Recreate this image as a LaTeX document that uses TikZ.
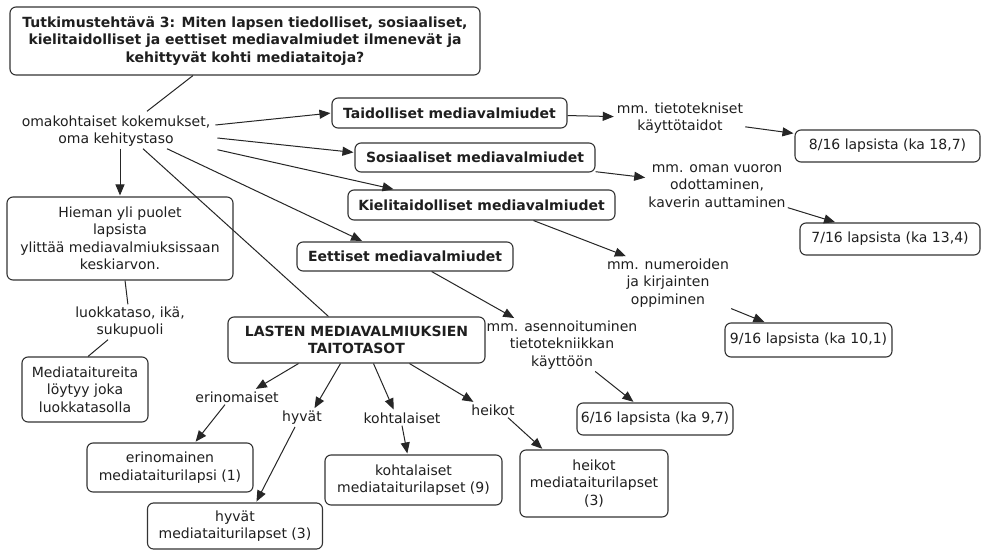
\documentclass[tikz,border=0pt]{standalone}
\usepackage{fontspec}
\setmainfont{DejaVu Sans}
\usetikzlibrary{arrows.meta,calc}
\begin{document}
\begin{tikzpicture}[x=1pt,y=-1pt,
  every node/.style={font=\fontsize{14}{17.5}\selectfont, align=center, text=black!88, inner sep=2pt},
  box/.style={draw=black!80, line width=1.1pt, rounded corners=6pt, fill=white},
  hbox/.style={box, font=\fontsize{14}{17.5}\selectfont\bfseries},
  arr/.style={draw=black!85, line width=1pt, -{Triangle[length=11pt,width=9pt]}, shorten >=1pt},
  ln/.style={draw=black!85, line width=1pt}]
\fill[white] (0,0) rectangle (982,551);
\useasboundingbox (0,0) rectangle (982,551);

% question and its starting point
\node[hbox, minimum width=470pt, minimum height=68pt] (q) at (245,41)
  {Tutkimustehtävä 3: Miten lapsen tiedolliset, sosiaaliset,\\ kielitaidolliset ja eettiset mediavalmiudet ilmenevät ja\\ kehittyvät kohti mediataitoja?};
\node (omak) at (116,131) {omakohtaiset kokemukset,\\ oma kehitystaso};

% the four kinds of media readiness
\node[hbox, minimum width=235pt, minimum height=30pt] (taid) at (449.5,113) {Taidolliset mediavalmiudet};
\node[hbox, minimum width=240pt, minimum height=29pt] (sos) at (475,157.5) {Sosiaaliset mediavalmiudet};
\node[hbox, minimum width=267pt, minimum height=30pt] (kiel) at (481.5,205) {Kielitaidolliset mediavalmiudet};
\node[hbox, minimum width=216pt, minimum height=29pt] (eett) at (405,256.5) {Eettiset mediavalmiudet};

% examples and results
\node (tiet) at (680,118) {mm. tietotekniset\\ käyttötaidot};
\node (oman) at (717,186) {mm. oman vuoron\\ odottaminen,\\ kaverin auttaminen};
\node (num) at (668,283) {mm. numeroiden\\ ja kirjainten\\ oppiminen};
\node (asen) at (562,345) {mm. asennoituminen\\ tietotekniikkan\\ käyttöön};
\node[box, minimum width=185pt, minimum height=32pt] (r8) at (887.5,146) {8/16 lapsista (ka 18,7)};
\node[box, minimum width=180pt, minimum height=32pt] (r7) at (890,239) {7/16 lapsista (ka 13,4)};
\node[box, minimum width=167pt, minimum height=34pt] (r9) at (808.5,340) {9/16 lapsista (ka 10,1)};
\node[box, minimum width=156pt, minimum height=32pt] (r6) at (655,419) {6/16 lapsista (ka 9,7)};

% left branch
\node[box, minimum width=226pt, minimum height=83pt] (hiem) at (120,238.5)
  {Hieman yli puolet\\ lapsista\\ ylittää mediavalmiuksissaan\\ keskiarvon.};
\node (luok) at (130,322) {luokkataso, ikä,\\ sukupuoli};
\node[box, minimum width=126pt, minimum height=65pt] (med) at (85,389.5) {Mediataitureita\\ löytyy joka\\ luokkatasolla};

% skill levels
\node[hbox, minimum width=257pt, minimum height=46pt] (lasten) at (356.5,340) {LASTEN MEDIAVALMIUKSIEN\\ TAITOTASOT};
\node (erin) at (237,397) {erinomaiset};
\node (hyv) at (302,418) {hyvät};
\node (koht) at (402,418) {kohtalaiset};
\node (heik) at (493,410) {heikot};
\node[box, minimum width=166pt, minimum height=49pt] (erinb) at (170,467.5) {erinomainen\\ mediataiturilapsi (1)};
\node[box, minimum width=175pt, minimum height=46pt] (hyvb) at (235,526) {hyvät\\ mediataiturilapset (3)};
\node[box, minimum width=177pt, minimum height=50pt] (kohtb) at (413.5,480) {kohtalaiset\\ mediataiturilapset (9)};
\node[box, minimum width=148pt, minimum height=67pt] (heikb) at (594,483.5) {heikot\\ mediataiturilapset\\ (3)};

% connectors
\draw[ln] ($(q.south)+(-52,0)$) -- ($(omak.north)+(31,-2)$);
\draw[arr] ($(omak.east)+(3,-6)$) -- (taid.west);
\draw[arr] ($(omak.east)+(5,7)$) -- ($(sos.west)+(0,-5)$);
\draw[arr] ($(omak.south east)+(5,1)$) -- ($(kiel.north)+(-87,0)$);
\draw[arr] ($(omak.south)+(51,0)$) -- ($(eett.north)+(-42,0)$);
\draw[arr] (omak.south -| hiem.north) -- (hiem.north);
\draw[ln] ($(omak.south)+(27,0)$) -- ($(lasten.north)+(-28,0)$);
\draw[arr] (taid) -- (tiet);
\draw[arr] (tiet) -- (r8);
\draw[arr] (sos) -- (oman);
\draw[arr] (oman) -- (r7);
\draw[arr] ($(kiel.south)+(52,0)$) -- ($(num.north west)+(22,0)$);
\draw[arr] (num) -- (r9);
\draw[arr] (eett) -- (asen);
\draw[arr] (asen) -- (r6);
\draw[ln] (hiem) -- (luok);
\draw[ln] ($(luok.south)+(-22,0)$) -- ($(med.north)+(3,0)$);
\draw[arr] ($(lasten.south)+(-58,0)$) -- ($(erin.north)+(18,0)$);
\draw[arr] ($(lasten.south)+(-16,0)$) -- ($(hyv.north)+(12,0)$);
\draw[arr] ($(lasten.south)+(17,0)$) -- ($(koht.north)+(-8,0)$);
\draw[arr] ($(lasten.south)+(53,0)$) -- ($(heik.north west)+(5,0)$);
\draw[arr] ($(erin.south)+(-12,0)$) -- ($(erinb.north)+(25,0)$);
\draw[arr] ($(hyv.south)+(-7,0)$) -- ($(hyvb.north)+(21,0)$);
\draw[arr] (koht.south) -- ($(kohtb.north)+(-6,0)$);
\draw[arr] ($(heik.south)+(15,0)$) -- ($(heikb.north)+(-51,0)$);
\end{tikzpicture}
\end{document}
